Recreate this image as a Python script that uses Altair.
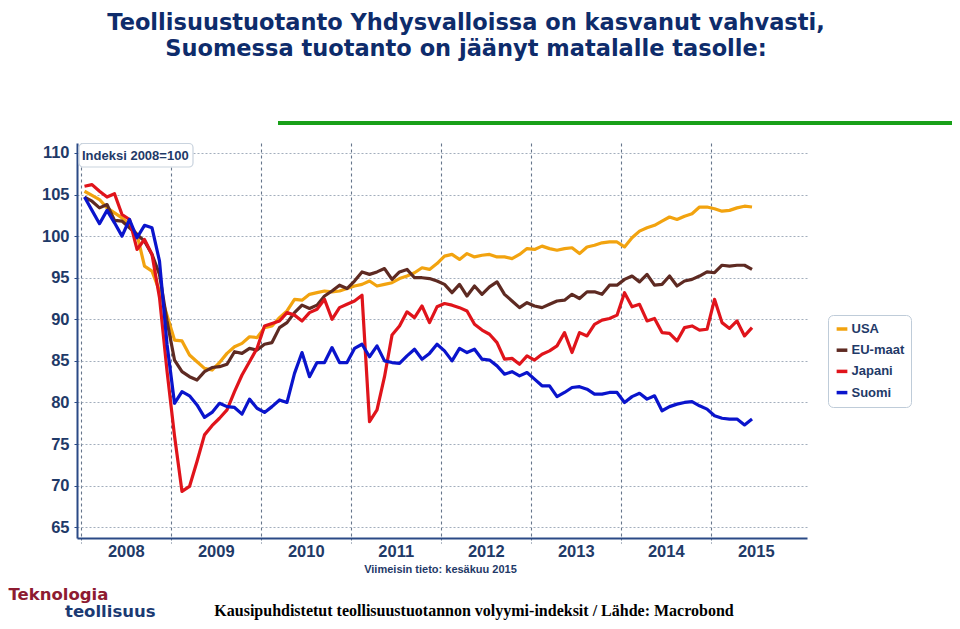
import altair as alt
import pandas as pd

# ---- data (monthly index 2008=100, Jan 2008 .. Jun 2015) ----
series_names = ["USA", "EU-maat", "Japani", "Suomi"]
series_colors = ["#F2A30F", "#5E2A22", "#E0141B", "#0A14CC"]

usa = [105.4, 104.9, 104.4, 103.4, 102.8, 102.2, 101.4, 100.2, 96.4, 95.8, 93.4, 90.5,
       87.5, 87.4, 85.7, 84.9, 84.1, 83.9, 84.8, 85.9, 86.7, 87.1, 87.9, 87.8,
       89.0, 89.2, 90.2, 91.0, 92.4, 92.3, 93.0, 93.2, 93.4, 93.3, 93.4, 93.7,
       94.0, 94.2, 94.6, 94.0, 94.2, 94.4, 94.9, 95.2, 95.6, 96.2, 96.0, 96.7,
       97.6, 97.8, 97.2, 97.9, 97.5, 97.7, 97.8, 97.5, 97.5, 97.3, 97.8, 98.5,
       98.4, 98.8, 98.5, 98.3, 98.5, 98.6, 97.9, 98.7, 98.9, 99.2, 99.3, 99.3,
       98.7, 99.8, 100.6, 101.0, 101.3, 101.8, 102.3, 102.0, 102.4, 102.7, 103.5, 103.5,
       103.3, 103.0, 103.1, 103.4, 103.6, 103.5]

eu = [104.7, 104.2, 103.4, 103.8, 101.9, 101.8, 101.0, 100.2, 99.4, 97.8, 95.4, 89.8,
      85.1, 83.7, 83.1, 82.7, 83.7, 84.2, 84.3, 84.6, 86.1, 85.9, 86.5, 86.3,
      87.0, 87.2, 89.0, 89.6, 90.8, 91.7, 91.3, 91.7, 92.8, 93.4, 94.1, 93.7,
      94.6, 95.7, 95.4, 95.7, 96.1, 94.8, 95.7, 96.0, 95.0, 95.0, 94.9, 94.6,
      94.2, 93.2, 94.2, 92.8, 94.0, 93.0, 93.9, 94.5, 93.0, 92.2, 91.4, 92.0,
      91.6, 91.4, 91.8, 92.2, 92.3, 93.0, 92.5, 93.3, 93.3, 93.0, 94.1, 94.1,
      94.8, 95.2, 94.5, 95.4, 94.1, 94.2, 95.2, 94.0, 94.6, 94.8, 95.2, 95.7,
      95.6, 96.5, 96.4, 96.5, 96.5, 96.0]

japani = [106.0, 106.2, 105.4, 104.7, 105.1, 102.6, 102.0, 98.4, 99.6, 97.8, 92.6, 83.8,
          76.0, 69.3, 69.9, 72.9, 76.1, 77.2, 78.1, 79.1, 81.3, 83.3, 84.9, 86.5,
          89.2, 89.5, 89.8, 90.8, 90.5, 89.8, 90.8, 91.2, 92.4, 90.0, 91.4, 91.8,
          92.2, 92.9, 77.7, 79.1, 83.1, 88.1, 89.2, 90.9, 90.2, 91.6, 89.6, 91.5,
          91.9, 91.7, 91.4, 91.0, 89.4, 88.7, 88.2, 87.2, 85.2, 85.3, 84.6, 85.6,
          85.1, 85.8, 86.2, 86.8, 88.4, 86.0, 88.4, 88.0, 89.4, 89.9, 90.1, 90.5,
          93.2, 91.5, 91.8, 89.8, 90.1, 88.4, 88.3, 87.4, 89.0, 89.2, 88.7, 88.8,
          92.4, 89.6, 88.9, 89.8, 88.0, 89.0]

suomi = [104.7, 103.1, 101.5, 103.1, 101.6, 100.0, 102.0, 99.8, 101.3, 101.0, 97.0, 87.0,
         79.9, 81.3, 80.8, 79.7, 78.2, 78.8, 79.9, 79.5, 79.4, 78.6, 80.4, 79.3,
         78.8, 79.5, 80.3, 80.0, 83.5, 86.0, 83.1, 84.8, 84.8, 86.6, 84.8, 84.8,
         86.5, 87.0, 85.5, 86.8, 85.0, 84.8, 84.7, 85.6, 86.4, 85.2, 85.9, 87.0,
         86.2, 85.0, 86.5, 86.0, 86.4, 85.2, 85.1, 84.4, 83.4, 83.7, 83.2, 83.6,
         82.8, 82.0, 82.0, 80.7, 81.2, 81.8, 81.9, 81.6, 81.0, 81.0, 81.2, 81.2,
         80.0, 80.7, 81.1, 80.4, 80.8, 79.0, 79.5, 79.8, 80.0, 80.1, 79.6, 79.2,
         78.4, 78.1, 78.0, 78.0, 77.3, 78.0]

first_year = 2008
year_starts = [0, 12, 24, 36, 48, 60, 72, 84]     # month offsets of Jan 1st
y_ticks = [65, 70, 75, 80, 85, 90, 95, 100, 105, 110]

title_line1 = "Teollisuustuotanto Yhdysvalloissa on kasvanut vahvasti,"
title_line2 = "Suomessa tuotanto on jäänyt matalalle tasolle:"
index_note = "Indeksi 2008=100"
latest_note = "Viimeisin tieto: kesäkuu 2015"
logo_top = "Teknologia"
logo_bottom = "teollisuus"
footer = "Kausipuhdistetut teollisuustuotannon volyymi-indeksit / Lähde: Macrobond"

# ---- build table ----
rows = []
for name, vals in zip(series_names, [usa, eu, japani, suomi]):
    for i, v in enumerate(vals):
        rows.append({"kk": i + 0.5, "arvo": v, "sarja": name})
df = pd.DataFrame(rows)

NAVY = "#1F3A68"
AXIS = "#2B4A86"
SANS = "Liberation Sans"

x_scale = alt.Scale(domain=[-0.5, 96.83], nice=False, zero=False)
y_scale = alt.Scale(domain=[63.7, 111.2], nice=False, zero=False)

lines = alt.Chart(df).mark_line(strokeWidth=3.2, strokeJoin="round").encode(
    x=alt.X("kk:Q", scale=x_scale, title=None,
            axis=alt.Axis(values=year_starts,
                          labelExpr=f"toString({first_year} + datum.value / 12)",
                          labelOffset=45, labelFlush=False,
                          grid=True, gridDash=[3, 3], gridColor="#66768C", gridWidth=1.1,
                          tickSize=5, tickDash=[2, 2], tickColor="#66768C",
                          domainColor=AXIS, domainWidth=2,
                          labelFont=SANS, labelFontSize=16.5,
                          labelFontWeight="bold", labelColor=NAVY, labelPadding=0)),
    y=alt.Y("arvo:Q", scale=y_scale, title=None,
            axis=alt.Axis(values=y_ticks, grid=True, gridDash=[2, 2],
                          gridColor="#A3AEBD", gridWidth=1,
                          tickSize=3, tickColor=AXIS,
                          domainColor=AXIS, domainWidth=2,
                          labelFont=SANS, labelFontSize=16.5,
                          labelFontWeight="bold", labelColor=NAVY, labelPadding=5)),
    color=alt.Color("sarja:N", title=None,
                    scale=alt.Scale(domain=series_names, range=series_colors),
                    legend=alt.Legend(orient="none", legendX=751, legendY=172,
                                      symbolType="stroke", symbolSize=115,
                                      symbolStrokeWidth=3.5,
                                      labelFont=SANS,
                                      labelFontSize=13, labelFontWeight="bold",
                                      labelColor=NAVY, labelOffset=2,
                                      rowPadding=6.2, padding=6.5,
                                      strokeColor="#BFCCD9", fillColor="white",
                                      cornerRadius=5, labelLimit=200)),
)


def one_row():
    return pd.DataFrame({"t": [0]})


def text_layer(txt, x, y, size, color, font, align="center", weight="bold"):
    return alt.Chart(pd.DataFrame({"t": [txt]})).mark_text(
        align=align, baseline="alphabetic", font=font, fontSize=size,
        fontWeight=weight, color=color
    ).encode(text="t:N", x=alt.value(x), y=alt.value(y))


note_box = alt.Chart(one_row()).mark_rect(
    fill="white", stroke="#C9D3DE", strokeWidth=1.2, cornerRadius=4
).encode(x=alt.value(2), x2=alt.value(116), y=alt.value(0.5), y2=alt.value(24))

green_bar = alt.Chart(one_row()).mark_rule(color="#19A019", strokeWidth=4).encode(
    x=alt.value(201), x2=alt.value(890), y=alt.value(-20)
)

layers = [
    note_box,
    text_layer(index_note, 5, 17, 13, NAVY, SANS, align="left"),
    lines,
    green_bar,
    text_layer(title_line1, 389, -113, 22.5, "#0E2C6B", "DejaVu Sans"),
    text_layer(title_line2, 389, -87.5, 22.5, "#0E2C6B", "DejaVu Sans"),
    text_layer(latest_note, 363.5, 430, 11, NAVY, SANS),
    text_layer(logo_top, -68.5, 457, 16.5, "#8E1B31", "DejaVu Sans", align="left"),
    text_layer(logo_bottom, -12, 474, 16.5, "#1B3A73", "DejaVu Sans", align="left"),
    text_layer(footer, 397, 473, 16, "#000000", "Liberation Serif"),
]

chart = alt.layer(*layers).properties(
    width=730, height=395,
    padding={"left": 69, "top": 135, "right": 145, "bottom": 83},
    autosize=alt.AutoSizeParams(type="none"),
).configure_view(strokeWidth=0)

chart.save("out.html", embed_options={"renderer": "svg", "actions": False})
